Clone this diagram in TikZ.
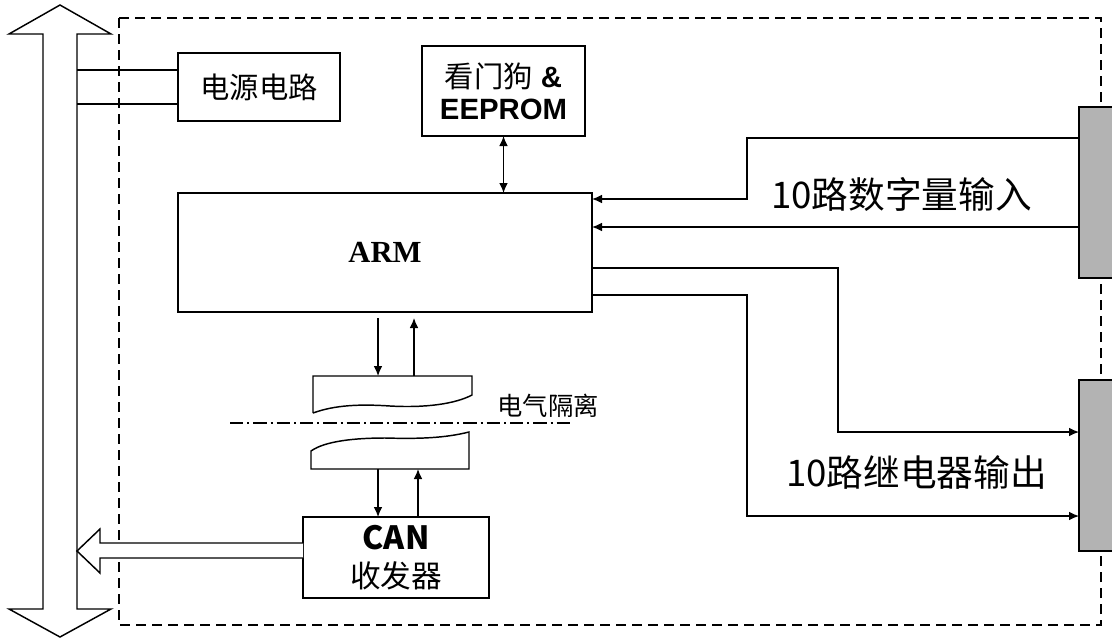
\documentclass[tikz,border=0pt]{standalone}
\usepackage{fontspec}
\setmainfont{Liberation Sans}
\newfontfamily\cjk{Noto Sans CJK SC}
\newfontfamily\armserif{Liberation Serif}
\usetikzlibrary{arrows.meta}
\definecolor{boardgray}{RGB}{179,179,179}

\begin{document}
\begin{tikzpicture}[x=0.75pt,y=-0.75pt,
  blk/.style={draw, line width=1.1pt, inner sep=0pt, outer sep=0pt, align=center},
  board/.style={draw, line width=1.1pt, fill=boardgray, inner sep=0pt, outer sep=0pt, minimum width=30.75pt, minimum height=128.25pt},
  wire/.style={line width=0.9pt},
  sig/.style={line width=0.9pt, -{Latex[length=7.5pt,width=6.5pt]}}]
\useasboundingbox (0,0) rectangle (1112,639);

% dashed board outline
\draw[line width=1pt, dash pattern=on 7.5pt off 4.5pt] (119,18) rectangle (1101,625);

% system bus
\draw[line width=1.1pt, fill=white] (60,5) -- (111,34) -- (77,34) -- (77,609) -- (111,609) -- (60,637) -- (9,609) -- (43,609) -- (43,34) -- (9,34) -- cycle;

\node[blk, minimum width=121.5pt, minimum height=51pt] (pwr) at (259,87) {\cjk\fontsize{22}{26}\selectfont 电源电路};
\node[blk, minimum width=122.25pt, minimum height=67.5pt, font=\fontsize{22}{24}\selectfont] (wdg) at (503.5,91) {{\cjk 看门狗} \textbf{\&}\\\textbf{EEPROM}};
\node[blk, minimum width=310.5pt, minimum height=89.25pt] (arm) at (385,252.5) {\armserif\bfseries\fontsize{23}{26}\selectfont ARM};
\node[blk, minimum width=139.5pt, minimum height=60.75pt, font=\cjk\fontsize{23}{29}\selectfont] (can) at (396,557.5) {{\bfseries\fontsize{24}{29}\selectfont CAN}\\收发器};

\node[board] (din) at (1099.5,192.5) {};
\node[board] (dout) at (1099.5,465.5) {};

\coordinate (bus1) at (77,70);
\coordinate (bus2) at (77,104);
\draw[wire] (bus1) -- (bus1 -| pwr.west);
\draw[wire] (bus2) -- (bus2 -| pwr.west);

\draw[line width=0.9pt, {Latex[length=7.5pt,width=6.5pt]}-{Latex[length=7.5pt,width=6.5pt]}] (wdg.south) -- (wdg.south |- arm.north);

% inputs
\draw[sig] (din.west |- 0,138) -- (747,138) -- (747,199) -- (arm.east |- 0,199);
\draw[sig] (din.west |- 0,227) -- (arm.east |- 0,227);
\node (lblin) at (901.5,194) {\cjk\fontsize{27.5}{32}\selectfont 10路数字量输入};

% outputs
\draw[sig] (arm.east |- 0,268) -- (838,268) -- (838,432) -- (dout.west |- 0,432);
\draw[sig] (arm.east |- 0,295) -- (747,295) -- (747,516) -- (dout.west |- 0,516);
\node (lblout) at (916.5,473) {\cjk\fontsize{27.5}{32}\selectfont 10路继电器输出};

% isolation
\draw[line width=1.1pt] (313,413) -- (313,376) -- (472,376) -- (472,395)
  .. controls (455,404) and (425,408) .. (390,406)
  .. controls (360,404) and (335,405) .. (313,413);
\draw[line width=1.1pt] (311,469) -- (311,451)
  .. controls (325,441) and (355,438) .. (385,438)
  .. controls (420,439) and (445,438) .. (469,432) -- (469,469) -- cycle;
\draw[line width=0.9pt, dash pattern=on 10pt off 3pt on 1.5pt off 3pt] (230,423) -- (570,423);
\node (lbliso) at (548,406) {\cjk\fontsize{19}{22}\selectfont 电气隔离};

\coordinate (isoa) at (378,318);
\coordinate (isob) at (414,318);
\draw[sig] (isoa) -- (378,376);
\draw[sig] (414,376) -- (isob);
\draw[sig] (378,469) -- (can.north -| 378,0);
\draw[sig] (can.north -| 418,0) -- (418,469);

% CAN to bus
\draw[line width=1.1pt, fill=white] (can.west |- 0,543) -- (100,543) -- (100,529) -- (77,551) -- (100,573) -- (100,558) -- (can.west |- 0,558);

\end{tikzpicture}
\end{document}
